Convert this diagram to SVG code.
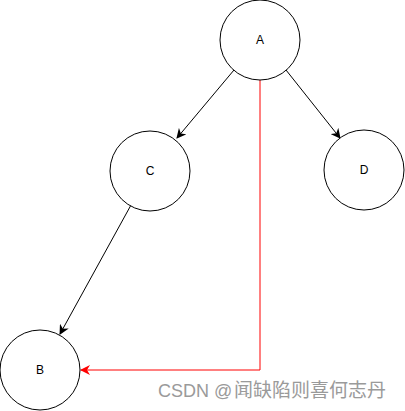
<svg xmlns="http://www.w3.org/2000/svg" width="405" height="411" viewBox="0 0 405 411">
<defs>
<marker id="ab" viewBox="0 0 10 10" refX="9" refY="5" markerWidth="10" markerHeight="10" markerUnits="userSpaceOnUse" orient="auto"><path d="M0,0 L10,5 L0,10 L3,5 Z" fill="#000"/></marker>
<marker id="ar" viewBox="0 0 10 10" refX="9" refY="5" markerWidth="10" markerHeight="10" markerUnits="userSpaceOnUse" orient="auto"><path d="M0,0 L10,5 L0,10 L3,5 Z" fill="#ff0000"/></marker>
</defs>
<style>
.n{fill:#fff;stroke:#000;stroke-width:1}
.t{font-family:"Liberation Sans",Arial,sans-serif;font-size:12px;text-anchor:middle;dominant-baseline:central;fill:#000}
.e{fill:none;stroke:#000;stroke-width:1}
</style>
<rect width="405" height="411" fill="#fff"/>
<g id="connectors">
<path class="e" d="M234,70 L177,138" marker-end="url(#ab)"/>
<path class="e" d="M286,70 L340,138" marker-end="url(#ab)"/>
<path class="e" d="M131,205 L60,334" marker-end="url(#ab)"/>
<path d="M260,80 L260,370 L81,370" fill="none" stroke="#ff0000" stroke-width="1" marker-end="url(#ar)"/>
</g>
<g id="A"><circle class="n" cx="260" cy="40" r="40"/><text class="t" x="260" y="40">A</text></g>
<g id="C"><circle class="n" cx="150" cy="171" r="40"/><text class="t" x="150" y="171">C</text></g>
<g id="D"><circle class="n" cx="364" cy="170" r="40"/><text class="t" x="364" y="170">D</text></g>
<g id="B"><circle class="n" cx="40" cy="370" r="40"/><text class="t" x="40" y="370">B</text></g>
<text x="158" y="397" font-family="'Liberation Sans','Noto Sans CJK SC',sans-serif" font-size="18" fill="#9a9a9a">CSDN @<tspan x="234" font-size="19">闻缺陷则喜何志丹</tspan></text>
</svg>
